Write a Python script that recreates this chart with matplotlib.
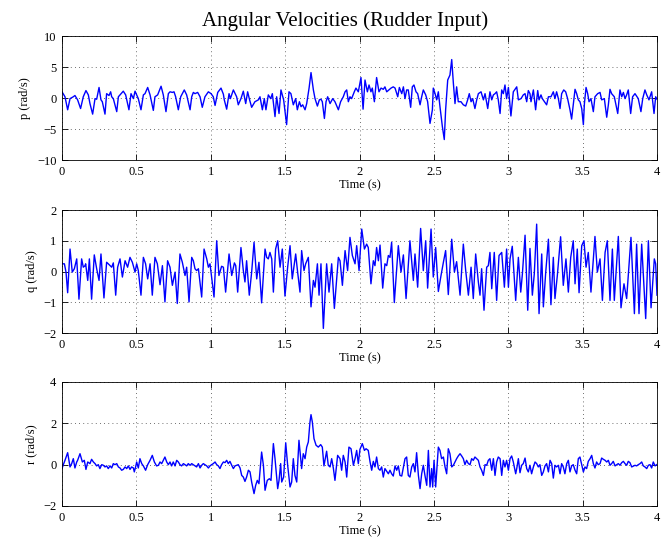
import matplotlib
matplotlib.use("Agg")
import matplotlib.pyplot as plt

plt.rcParams['font.family'] = ['Liberation Serif', 'DejaVu Serif']
plt.rcParams['axes.unicode_minus'] = True

title = "Angular Velocities (Rudder Input)"
ylabels = ["p (rad/s)", "q (rad/s)", "r (rad/s)"]
xlabel = "Time (s)"
x_ticks = [0, 0.5, 1, 1.5, 2, 2.5, 3, 3.5, 4]
x_ticklabels = ["0", "0.5", "1", "1.5", "2", "2.5", "3", "3.5", "4"]
p_yticks = [-10, -5, 0, 5, 10]
q_yticks = [-2, -1, 0, 1, 2]
r_yticks = [-2, 0, 2, 4]

# (time s, value rad/s)
p_points = [(0.000,1.0),(0.020,0.2),(0.038,-1.9),(0.054,-0.1),(0.076,0.2),(0.087,0.4),(0.105,-0.3),(0.125,-1.7),(0.143,0.2),(0.161,1.2),(0.177,0.5),(0.188,-0.9),(0.206,-2.6),(0.222,-0.1),(0.233,-0.2),(0.249,1.7),(0.262,-0.3),(0.271,-0.6),(0.289,-2.6),(0.300,0.7),(0.316,0.4),(0.327,1.0),(0.334,0.2),(0.345,-0.1),(0.368,-2.2),(0.379,0.2),(0.390,0.5),(0.412,1.1),(0.428,0.5),(0.450,-1.9),(0.464,0.7),(0.480,-0.1),(0.491,1.1),(0.502,0.5),(0.513,-0.1),(0.531,-1.9),(0.547,0.5),(0.558,0.7),(0.576,1.7),(0.592,0.5),(0.614,-2.0),(0.625,0.2),(0.643,0.5),(0.666,1.9),(0.681,0.5),(0.699,-2.2),(0.715,0.7),(0.726,1.0),(0.742,0.9),(0.753,1.0),(0.764,0.2),(0.782,-1.9),(0.798,0.2),(0.822,1.3),(0.838,0.5),(0.861,-1.9),(0.872,0.2),(0.883,0.9),(0.894,0.7),(0.912,0.9),(0.928,0.2),(0.943,-1.5),(0.961,0.2),(0.984,1.0),(1.002,0.7),(1.017,0.2),
(1.029,-1.2),(1.047,0.9),(1.069,1.6),(1.085,0.6),(1.091,-0.3),(1.107,-1.8),(1.123,0.7),(1.132,-0.1),(1.152,1.3),(1.174,0.2),(1.185,-1.1),(1.203,-0.1),(1.219,1.1),(1.235,-0.9),(1.248,1.0),(1.259,-0.1),(1.275,-1.5),(1.297,-0.6),(1.320,-0.3),(1.331,0.2),(1.347,-1.9),(1.360,-0.1),(1.371,-1.9),(1.387,0.5),(1.403,-0.1),(1.414,0.7),(1.432,-3.0),(1.443,0.2),(1.459,-2.5),(1.472,1.3),(1.490,-0.3),(1.510,-4.3),(1.526,1.0),(1.539,0.7),(1.555,-1.1),(1.571,-0.1),(1.582,-1.9),(1.596,-0.6),(1.607,-1.4),(1.618,-1.1),(1.634,-1.9),(1.645,-0.9),(1.661,1.6),(1.674,4.1),(1.690,1.3),(1.701,-0.1),(1.717,-1.3),(1.730,-0.3),(1.741,-0.2),(1.750,-0.6),(1.764,-3.3),(1.775,-0.6),(1.786,0.2),(1.802,-0.9),(1.820,-0.1),(1.835,-0.6),(1.858,-1.9),(1.873,-0.6),(1.891,0.2),(1.903,1.0),(1.914,1.3),(1.925,-0.6),(1.936,0.2),(1.947,-0.1),(1.965,1.0),(1.976,1.6),
(1.992,1.0),(2.010,3.3),(2.024,-1.8),(2.037,2.9),(2.053,1.0),(2.064,2.1),(2.077,1.0),(2.086,1.6),(2.100,-0.6),(2.115,3.3),(2.131,1.0),(2.145,1.6),(2.160,1.4),(2.171,1.8),(2.183,1.0),(2.198,1.3),(2.212,1.6),(2.227,1.8),(2.239,1.6),(2.257,0.2),(2.268,1.7),(2.284,0.7),(2.295,1.8),(2.306,-0.1),(2.317,1.3),(2.328,1.3),(2.344,-1.5),(2.355,1.8),(2.366,2.1),(2.380,1.0),(2.391,0.7),(2.407,-1.1),(2.418,0.2),(2.429,1.3),(2.445,0.5),(2.458,-0.6),(2.474,-4.1),(2.490,-1.9),(2.496,1.6),(2.508,0.7),(2.519,-0.3),(2.530,1.0),(2.541,-1.4),(2.557,-4.6),(2.570,-6.7),(2.579,-1.9),(2.593,2.9),(2.608,3.7),(2.620,6.2),(2.631,2.4),(2.642,-0.9),(2.653,1.8),(2.664,-0.6),(2.682,-0.6),(2.698,-1.1),(2.714,-1.3),(2.727,-0.3),(2.738,0.7),(2.750,-0.6),(2.761,-0.1),(2.776,-1.7),(2.788,-0.3),(2.799,0.7),(2.817,1.0),(2.833,-0.3),(2.844,0.7),(2.862,-1.7),(2.877,1.0),(2.889,-0.3),(2.900,0.5),(2.911,0.7),(2.922,1.0),(2.933,-0.3),(2.945,-2.5),(2.956,1.3),(2.967,0.7),(2.978,2.1),
(2.989,-0.1),(3.001,1.7),(3.018,-2.9),(3.034,1.0),(3.057,1.8),(3.068,-0.3),(3.086,-0.1),(3.101,0.5),(3.113,0.7),(3.124,-0.6),(3.135,1.2),(3.146,0.7),(3.153,-0.6),(3.169,1.3),(3.184,-1.9),(3.198,1.2),(3.207,-0.3),(3.220,0.5),(3.229,-0.1),(3.258,-1.1),(3.270,0.2),(3.287,0.2),(3.303,1.0),(3.314,-0.1),(3.325,1.0),(3.337,-0.1),(3.348,-1.7),(3.359,0.7),(3.373,1.3),(3.386,1.0),(3.399,-0.1),(3.415,-1.9),(3.426,-3.4),(3.437,-1.1),(3.449,1.4),(3.460,0.7),(3.471,-0.3),(3.482,-0.6),(3.494,-1.7),(3.505,-4.3),(3.512,-0.9),(3.523,1.7),(3.534,0.7),(3.543,-0.6),(3.556,-0.1),(3.572,-2.2),(3.583,0.2),(3.601,0.7),(3.617,0.9),(3.628,-0.3),(3.646,-0.1),(3.662,-3.1),(3.673,-1.1),(3.684,1.4),(3.695,0.7),(3.713,0.2),(3.736,-2.5),(3.751,1.3),(3.763,0.2),(3.774,0.9),(3.785,-0.1),(3.796,0.5),(3.807,1.3),(3.823,-2.5),(3.836,0.2),(3.852,0.7),(3.874,-0.1),(3.892,-2.2),(3.904,-0.1),(3.919,1.3),(3.931,0.5),(3.946,-0.3),(3.964,1.0),(3.980,-2.5),(3.991,0.2),(4.000,-0.2)]

q_points = [(0.000,0.25),(0.016,0.25),(0.027,-0.02),(0.038,-0.69),(0.054,0.73),(0.069,-0.02),(0.083,0.09),(0.099,0.41),(0.114,-0.90),(0.132,0.41),(0.143,0.14),(0.155,0.19),(0.159,0.25),(0.173,-0.29),(0.184,0.41),(0.199,-0.90),(0.217,0.54),(0.233,0.09),(0.249,-0.29),(0.262,0.57),(0.282,-0.86),(0.300,0.30),(0.311,0.25),(0.334,0.14),(0.345,0.28),(0.361,-0.77),(0.374,0.14),(0.390,0.41),(0.406,-0.18),(0.424,0.35),(0.441,0.14),(0.457,0.46),(0.473,0.30),(0.491,-0.02),(0.502,0.25),(0.513,0.03),(0.531,-0.77),(0.547,0.46),(0.562,0.25),(0.576,-0.24),(0.592,0.25),(0.607,-0.77),(0.625,0.46),(0.641,0.25),(0.659,-0.43),(0.675,0.19),(0.692,-0.99),(0.710,0.35),(0.726,0.14),(0.742,-0.45),(0.760,-0.02),(0.775,-1.04),(0.793,0.57),(0.809,0.30),(0.827,-0.13),(0.838,0.14),(0.854,-0.99),(0.872,0.46),(0.883,0.35),(0.894,0.09),(0.905,0.03),(0.917,0.09),(0.939,-0.83),(0.955,0.73),(0.973,0.41),(0.984,0.14),(0.995,0.25),(1.006,-0.18),
(1.022,-0.83),(1.040,1.00),(1.055,-0.13),(1.073,0.17),(1.085,0.14),(1.100,-0.67),(1.123,0.57),(1.141,-0.13),(1.159,0.28),(1.168,0.19),(1.181,-0.67),(1.203,0.78),(1.219,0.03),(1.230,-0.34),(1.241,0.35),(1.259,-0.77),(1.275,-0.02),(1.291,0.95),(1.309,-0.24),(1.324,0.30),(1.342,-1.02),(1.365,0.73),(1.376,0.46),(1.387,0.41),(1.398,0.62),(1.410,0.41),(1.421,-0.67),(1.436,0.73),(1.450,1.00),(1.466,0.14),(1.481,0.73),(1.499,-0.80),(1.517,0.14),(1.533,0.84),(1.548,-0.24),(1.571,0.57),(1.584,-0.02),(1.600,-0.67),(1.611,0.68),(1.627,0.03),(1.638,0.25),(1.656,0.46),(1.674,-1.15),(1.690,-0.29),(1.701,-0.51),(1.717,0.25),(1.728,-0.77),(1.741,0.25),(1.757,-1.85),(1.779,0.25),(1.795,-0.67),(1.813,0.25),(1.831,-1.20),(1.858,0.46),(1.869,0.35),(1.885,-0.45),(1.903,0.68),(1.920,0.03),(1.936,1.11),(1.952,0.52),(1.970,0.25),(1.981,0.84),(1.997,0.03),(2.015,1.38),
(2.033,0.73),(2.048,0.89),(2.059,0.78),(2.077,-0.40),(2.093,0.35),(2.104,0.19),(2.115,0.78),(2.127,0.35),(2.138,0.86),(2.156,-0.54),(2.171,0.25),(2.183,0.19),(2.194,0.52),(2.205,0.46),(2.216,0.95),(2.234,-1.01),(2.261,0.84),(2.279,-0.02),(2.295,0.54),(2.313,-0.88),(2.339,1.00),(2.362,-0.29),(2.373,0.57),(2.391,-0.51),(2.411,1.40),(2.429,0.03),(2.445,1.00),(2.458,-0.54),(2.481,1.38),(2.496,-0.18),(2.512,0.78),(2.530,-0.65),(2.548,-0.13),(2.564,0.30),(2.579,0.68),(2.597,-0.75),(2.620,1.05),(2.638,-0.02),(2.653,0.32),(2.676,-0.77),(2.698,0.89),(2.714,0.03),(2.732,-0.77),(2.750,0.14),(2.765,-0.88),(2.781,0.57),(2.799,-0.34),(2.810,-0.77),(2.821,0.09),(2.837,-1.26),(2.855,0.14),(2.866,0.19),(2.877,0.62),(2.889,-0.56),(2.906,0.62),(2.922,-0.94),(2.938,0.52),(2.956,0.62),(2.974,-0.51),(2.989,0.73),
(3.001,-0.51),(3.012,0.41),(3.027,0.82),(3.050,-0.94),(3.068,0.46),(3.084,-0.67),(3.095,-0.08),(3.113,1.18),(3.131,-1.26),(3.146,0.75),(3.162,-0.77),(3.175,-0.08),(3.191,1.54),(3.207,-1.37),(3.225,0.57),(3.236,-1.15),(3.252,-0.02),(3.270,1.05),(3.287,-1.08),(3.303,0.46),(3.314,-0.88),(3.330,-0.13),(3.352,1.13),(3.370,-0.45),(3.388,0.41),(3.404,-0.67),(3.420,0.46),(3.437,1.00),(3.449,-0.40),(3.464,0.73),(3.476,-0.69),(3.494,0.84),(3.509,1.00),(3.523,0.14),(3.538,0.62),(3.556,-0.67),(3.583,1.14),(3.599,-0.02),(3.617,0.41),(3.633,-0.94),(3.651,0.62),(3.666,1.00),(3.684,-0.94),(3.700,0.73),(3.713,-0.94),(3.740,1.14),(3.758,-1.18),(3.778,-0.40),(3.796,-0.88),(3.825,1.11),(3.848,-1.37),(3.863,0.89),(3.879,-1.37),(3.897,0.89),(3.924,-1.53),(3.942,1.00),(3.960,-1.18),(3.982,0.41),(3.991,0.25),(4.000,-0.77)]

r_points = [(0.000,-0.19),(0.009,0.00),(0.020,0.21),(0.038,0.58),(0.054,-0.11),(0.065,0.05),(0.076,0.29),(0.087,-0.16),(0.099,0.13),(0.105,0.21),(0.121,0.53),(0.137,0.13),(0.150,0.21),(0.161,-0.23),(0.173,0.13),(0.188,0.05),(0.199,0.26),(0.211,0.13),(0.222,0.05),(0.233,-0.06),(0.244,0.00),(0.255,-0.19),(0.267,0.00),(0.278,-0.03),(0.289,-0.11),(0.300,-0.06),(0.311,-0.19),(0.323,-0.06),(0.334,-0.16),(0.345,0.05),(0.356,0.00),(0.368,0.05),(0.379,-0.11),(0.390,-0.16),(0.401,-0.27),(0.412,-0.23),(0.424,-0.11),(0.435,-0.19),(0.446,-0.06),(0.457,-0.23),(0.468,-0.11),(0.480,-0.16),(0.486,-0.35),(0.495,-0.11),(0.502,0.13),(0.513,-0.16),(0.524,0.29),(0.536,0.05),(0.547,-0.06),(0.562,-0.27),(0.576,0.00),(0.592,0.21),(0.607,0.45),(0.621,0.13),(0.636,-0.06),(0.648,-0.03),(0.659,0.13),(0.670,0.05),(0.681,0.21),(0.692,0.37),(0.704,0.13),(0.715,0.00),(0.726,0.13),(0.737,-0.06),(0.748,0.13),(0.760,-0.06),(0.771,0.21),(0.782,0.13),(0.793,0.00),(0.804,-0.06),(0.816,0.05),(0.827,0.00),(0.838,-0.06),(0.849,0.05),(0.861,-0.03),(0.872,0.05),(0.894,-0.06),(0.905,-0.11),(0.917,0.05),(0.928,-0.16),(0.939,-0.03),(0.950,0.05),(0.961,0.00),(0.973,-0.06),(0.984,-0.16),(0.995,-0.06),(1.006,0.00),
(1.017,0.05),(1.029,0.13),(1.040,0.00),(1.051,-0.06),(1.062,-0.19),(1.073,0.00),(1.085,0.13),(1.096,0.10),(1.107,0.21),(1.118,0.05),(1.129,0.16),(1.141,-0.03),(1.152,-0.19),(1.163,-0.06),(1.174,-0.03),(1.185,0.00),(1.197,-0.16),(1.208,-0.52),(1.219,-0.60),(1.230,-0.81),(1.241,-0.60),(1.253,-0.27),(1.264,-0.35),(1.275,-0.84),(1.291,-1.40),(1.302,-1.00),(1.313,-0.76),(1.324,-0.92),(1.342,0.61),(1.354,-0.03),(1.365,-1.24),(1.380,-0.76),(1.394,-0.68),(1.405,-0.76),(1.421,1.02),(1.432,0.29),(1.450,-1.16),(1.459,-0.76),(1.470,0.05),(1.477,-0.84),(1.490,-0.60),(1.504,1.06),(1.517,-0.03),(1.533,-1.08),(1.544,-0.84),(1.555,0.29),(1.566,-0.52),(1.578,-0.84),(1.593,1.18),(1.611,-0.19),(1.622,0.53),(1.634,0.29),(1.645,0.85),(1.656,1.10),(1.667,2.06),(1.674,2.42),(1.683,2.06),(1.694,1.26),(1.708,0.94),(1.723,0.85),(1.739,0.97),(1.750,0.85),(1.761,-0.06),(1.779,0.65),(1.790,-0.03),(1.802,-0.11),(1.813,0.29),(1.824,-0.16),(1.835,-0.76),(1.853,0.45),(1.869,0.29),(1.880,-0.27),(1.891,0.45),(1.903,0.13),(1.914,-0.60),(1.929,0.85),(1.943,0.77),(1.959,-0.03),(1.970,0.29),(1.981,0.69),(1.992,0.05),
(2.003,0.74),(2.019,1.02),(2.033,0.69),(2.044,0.77),(2.059,0.69),(2.071,0.13),(2.082,-0.27),(2.093,0.16),(2.104,-0.11),(2.115,0.37),(2.127,-0.19),(2.138,-0.27),(2.149,-0.11),(2.160,-0.60),(2.171,-0.19),(2.194,-0.44),(2.205,-0.27),(2.216,-0.44),(2.227,-0.55),(2.239,-0.06),(2.250,-0.27),(2.261,-0.06),(2.272,-0.52),(2.284,-0.55),(2.306,0.29),(2.317,0.37),(2.328,-0.52),(2.339,-0.60),(2.351,-0.11),(2.362,0.05),(2.373,-0.35),(2.384,0.58),(2.396,-0.52),(2.407,-1.16),(2.418,-0.44),(2.429,-0.03),(2.440,-0.52),(2.452,-1.00),(2.463,0.69),(2.474,-1.08),(2.485,-0.19),(2.492,-1.08),(2.501,0.21),(2.512,-1.08),(2.519,-0.35),(2.530,0.85),(2.541,0.69),(2.552,0.29),(2.564,0.37),(2.575,-0.11),(2.586,-0.44),(2.597,0.77),(2.608,0.53),(2.620,-0.11),(2.631,-0.03),(2.642,0.13),(2.653,0.29),(2.664,0.42),(2.676,0.53),(2.687,0.42),(2.698,0.29),(2.709,0.00),(2.720,0.21),(2.732,0.05),(2.743,0.00),(2.754,0.29),(2.765,0.21),(2.776,0.37),(2.788,0.29),(2.799,0.21),(2.810,-0.11),(2.821,-0.27),(2.833,-0.52),(2.844,0.00),(2.855,-0.03),(2.866,0.21),(2.877,0.29),(2.889,-0.27),(2.900,0.29),(2.911,-0.52),(2.922,0.13),(2.933,0.37),(2.945,0.29),(2.956,-0.52),(2.967,0.21),(2.978,-0.11),
(2.989,0.21),(3.001,-0.27),(3.012,0.29),(3.023,0.42),(3.034,0.13),(3.050,-0.44),(3.057,-0.19),(3.068,0.29),(3.079,-0.39),(3.090,-0.03),(3.101,0.05),(3.113,0.32),(3.124,-0.19),(3.135,-0.35),(3.146,-0.03),(3.157,-0.44),(3.169,-0.11),(3.180,0.13),(3.191,0.05),(3.202,-0.11),(3.213,0.00),(3.225,-0.52),(3.236,-0.35),(3.247,-0.06),(3.258,0.05),(3.270,-0.35),(3.281,0.21),(3.292,0.05),(3.303,-0.65),(3.314,-0.03),(3.325,-0.11),(3.337,-0.03),(3.348,-0.44),(3.359,0.05),(3.370,-0.11),(3.381,-0.44),(3.393,0.05),(3.404,0.21),(3.415,-0.35),(3.426,-0.06),(3.437,0.00),(3.449,-0.27),(3.460,-0.44),(3.471,0.29),(3.482,0.37),(3.494,0.00),(3.505,-0.35),(3.516,-0.11),(3.527,-0.19),(3.538,0.16),(3.550,0.29),(3.561,0.45),(3.572,0.05),(3.583,-0.16),(3.594,0.13),(3.605,0.00),(3.617,0.05),(3.628,0.32),(3.639,0.26),(3.651,0.21),(3.662,0.13),(3.673,0.21),(3.684,-0.03),(3.695,0.05),(3.706,0.16),(3.718,-0.06),(3.729,0.00),(3.740,0.05),(3.751,-0.03),(3.763,0.10),(3.774,0.16),(3.785,0.05),(3.796,-0.03),(3.807,0.16),(3.818,0.10),(3.830,-0.11),(3.852,-0.03),(3.863,-0.06),(3.874,0.00),(3.886,0.05),(3.897,0.13),(3.908,-0.06),(3.919,-0.11),(3.931,-0.19),(3.942,-0.03),(3.953,0.00),(3.964,-0.16),(3.975,0.13),(3.987,-0.06),(3.998,0.00)]

series = [(p_points, (-10, 10), p_yticks),
          (q_points, (-2, 2), q_yticks),
          (r_points, (-2, 4), r_yticks)]

W, H = 668, 544
fig = plt.figure(figsize=(W / 100, H / 100), dpi=100)
boxes = [(36, 160), (210, 333), (382, 506)]
left, right = 62, 657

for (pts, ylim, yt), ylab, (top, bot) in zip(series, ylabels, boxes):
    ax = fig.add_axes([left / W, 1 - bot / H, (right - left) / W, (bot - top) / H])
    t = [a for a, b in pts]
    v = [b for a, b in pts]
    ax.plot(t, v, color='#0000ff', lw=1.0)
    ax.set_xlim(0, 4)
    ax.set_ylim(*ylim)
    ax.set_xticks(x_ticks)
    ax.set_xticklabels(x_ticklabels)
    ax.set_yticks(yt)
    ax.tick_params(direction='in', top=True, right=True, labelsize=9,
                   length=4, width=0.6, pad=4)
    ax.grid(True, color='0.25', linestyle=(0, (1, 4)), linewidth=0.6)
    for s in ax.spines.values():
        s.set_linewidth(0.6)
    ax.set_xlabel(xlabel, fontsize=9, labelpad=1)
    ax.set_ylabel(ylab, fontsize=9, labelpad=4)
    if top == 36:
        ax.set_title(title, fontsize=15, pad=7, x=0.476)

fig.savefig("out.png", dpi=100)
